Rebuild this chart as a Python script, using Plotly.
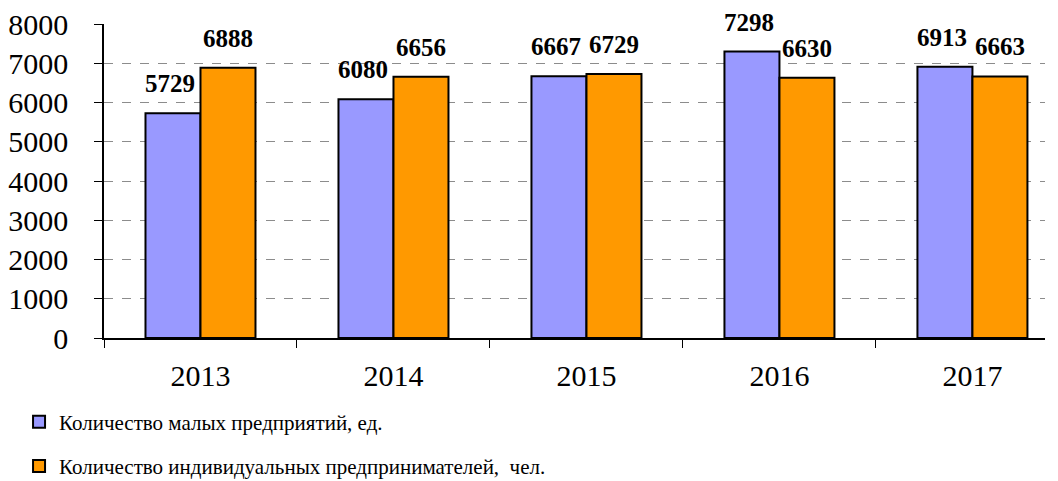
import plotly.graph_objects as go

years = ["2013", "2014", "2015", "2016", "2017"]
small_firms = [5729, 6080, 6667, 7298, 6913]
entrepreneurs = [6888, 6656, 6729, 6630, 6663]
names = [
    "Количество малых предприятий, ед.",
    "Количество индивидуальных предпринимателей,  чел.",
]

_FONT = "Times New Roman, Liberation Serif, serif"
_C1 = "#9999ff"
_C2 = "#ff9900"

fig = go.Figure()
for vals, name, col, grp in [(small_firms, names[0], _C1, "a"),
                             (entrepreneurs, names[1], _C2, "b")]:
    fig.add_trace(go.Bar(
        x=years, y=vals, name=name, legendgroup=grp,
        marker=dict(color=col, line=dict(color="black", width=2)),
    ))

# подписи значений над столбцами
for vals, shift in [(small_firms, -30), (entrepreneurs, 28)]:
    for i, v in enumerate(vals):
        fig.add_annotation(
            x=i, y=v, xref="x", yref="y", text=f"<b>{v}</b>", showarrow=False,
            xshift=shift, yshift=14, yanchor="bottom",
            font=dict(family=_FONT, size=25, color="black"),
        )

fig.update_xaxes(
    type="category", range=[-0.5, 4.376],
    showline=True, linecolor="black", linewidth=1.5,
    ticks="outside", tickson="boundaries", ticklen=8, tickcolor="black",
    tickfont=dict(family=_FONT, size=30, color="black"),
    ticklabelstandoff=10,
)
fig.update_yaxes(
    range=[0, 8000], dtick=1000, showgrid=False, zeroline=False,
    showline=True, linecolor="black", linewidth=1.5,
    ticks="outside", ticklen=8, tickcolor="black",
    tickfont=dict(family=_FONT, size=30, color="black"),
    ticklabelstandoff=20,
    minor=dict(tickvals=[1000, 2000, 3000, 4000, 5000, 6000, 7000],
               showgrid=True, gridcolor="#8c8c8c", griddash="dash",
               gridwidth=1, ticklen=0),
)
fig.update_layout(
    width=1058, height=481,
    paper_bgcolor="white", plot_bgcolor="white",
    barmode="group", bargap=0.43, bargroupgap=0,
    showlegend=True,
    legend=dict(
        orientation="v", xref="container", yref="container",
        x=0.018, xanchor="left", y=0.165, yanchor="top",
        font=dict(family=_FONT, size=21, color="black"),
        tracegroupgap=14, itemwidth=30, bgcolor="rgba(0,0,0,0)",
    ),
    margin=dict(l=104, r=13, t=24, b=143, autoexpand=False),
)

fig.write_html("out.html", config={"displayModeBar": False},
               post_script="document.body.style.margin='0';")
